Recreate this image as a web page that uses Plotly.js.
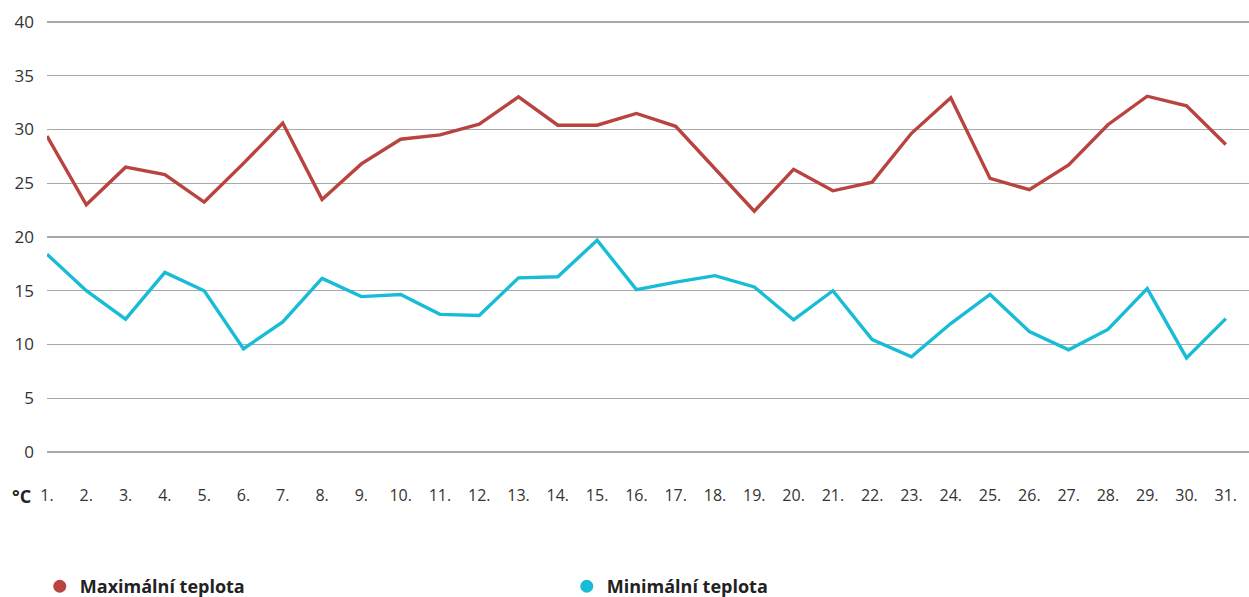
<!DOCTYPE html>
<html>
<head>
<meta charset="utf-8">
<script src="https://cdn.plot.ly/plotly-3.0.1.min.js"></script>
<style>html,body{margin:0;padding:0;background:#fff}#chart{width:1249px;height:597px}</style>
</head>
<body>
<div id="chart"></div>
<script>
var days = [1,2,3,4,5,6,7,8,9,10,11,12,13,14,15,16,17,18,19,20,21,22,23,24,25,26,27,28,29,30,31];
var dayLabels = days.map(function(d){return d + '.';});
var maxTemp = [29.4,23.0,26.5,25.8,23.25,26.85,30.6,23.5,26.8,29.1,29.5,30.5,33.05,30.4,30.4,31.5,30.3,26.3,22.4,26.3,24.3,25.1,29.65,32.95,25.45,24.4,26.7,30.45,33.1,32.2,28.6];
var minTemp = [18.4,15.0,12.35,16.7,15.0,9.6,12.1,16.15,14.45,14.65,12.8,12.7,16.2,16.3,19.7,15.1,15.8,16.4,15.35,12.3,15.0,10.45,8.85,11.95,14.65,11.2,9.5,11.4,15.2,8.75,12.4];
var seriesNames = ['Maximální teplota','Minimální teplota'];
var yTicks = [0,5,10,15,20,25,30,35,40];
var unitLabel = '°C';

var red = '#b8433f', cyan = '#19bcd6';
var data = [
  {x: days, y: maxTemp, mode:'lines', line:{color:red, width:3.4}, showlegend:false, hoverinfo:'skip'},
  {x: days, y: minTemp, mode:'lines', line:{color:cyan, width:3.4}, showlegend:false, hoverinfo:'skip'},
  {x:[null], y:[null], mode:'markers', name: seriesNames[0], marker:{color:red, size:13}},
  {x:[null], y:[null], mode:'markers', name: seriesNames[1], marker:{color:cyan, size:13}}
];
var layout = {
  width:1249, height:597,
  margin:{l:47, r:0, t:21, b:144, autoexpand:false},
  paper_bgcolor:'#fff', plot_bgcolor:'#fff',
  font:{family:'Open Sans, sans-serif', size:16, color:'#333'},
  xaxis:{range:[1,31.59], tickvals: days, ticktext: dayLabels, showgrid:false, zeroline:false, showline:false, ticks:'', ticklabelstandoff:31, tickfont:{size:16, color:'#333'}},
  yaxis:{range:[-0.1,40.1], tickvals:yTicks, showgrid:true, gridcolor:'#a8a8a8', gridwidth:1.3, zeroline:false, showline:false, ticks:'', ticklabelstandoff:12, tickfont:{size:17, color:'#333'}},
  showlegend:true,
  legend:{orientation:'h', x:-0.006, xanchor:'left', y:-0.352, yanchor:'bottom', entrywidth:482, entrywidthmode:'pixels', font:{size:18, color:'#222', family:'Open Sans, sans-serif', weight:'bold'}, itemclick:false},
  annotations:[{text:'<b>'+unitLabel+'</b>', xref:'paper', yref:'paper', x:-0.031, y:-0.1, xanchor:'left', yanchor:'middle', showarrow:false, font:{size:18, color:'#222', family:'Open Sans, sans-serif'}}]
};
Plotly.newPlot('chart', data, layout, {displayModeBar:false, staticPlot:true});
</script>
</body>
</html>
